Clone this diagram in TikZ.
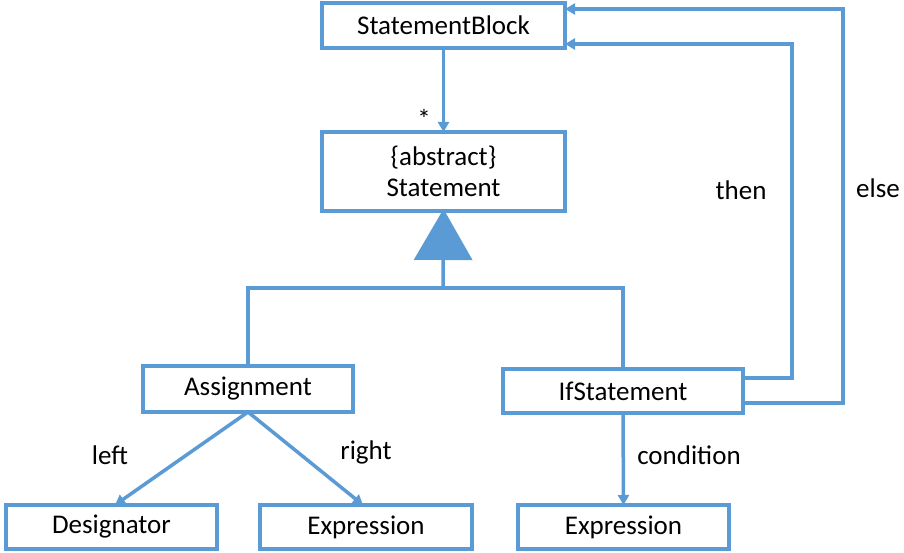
\documentclass[tikz,border=0pt]{standalone}
\usepackage{fontspec}
\setmainfont{Carlito}
\usetikzlibrary{arrows.meta}
\definecolor{umlblue}{HTML}{5B9BD5}
\begin{document}
\begin{tikzpicture}[x=1pt,y=-1pt,
  cls/.style={draw=umlblue, line width=4.5pt, fill=white, inner sep=0pt, outer sep=0pt, minimum height=44pt, align=center, font=\fontsize{27}{33}\selectfont},
  conn/.style={draw=umlblue, line width=3.5pt},
  arr/.style={conn, -{Triangle[length=10pt,width=11pt]}},
  lbl/.style={font=\fontsize{27}{33}\selectfont, inner sep=0pt}]
\useasboundingbox (0,0) rectangle (904,553);
\node[cls, minimum width=243pt, minimum height=45pt] (sb) at (443.5,25.5) {StatementBlock};
\node[cls, minimum width=243pt, minimum height=79pt] (stmt) at (443.5,171.5) {\{abstract\}\\[-2pt]Statement};
\node[cls, minimum width=210pt, minimum height=46pt] (assign) at (248,389) {Assignment};
\node[cls, minimum width=240pt] (ifs) at (623,391) {IfStatement};
\node[cls, minimum width=211pt] (desig) at (111.5,527) {Designator};
\node[cls, minimum width=212pt] (expr1) at (366,527) {Expression};
\node[cls, minimum width=211pt] (expr2) at (623.5,527) {Expression};

\coordinate (j) at (443,288);
\draw[conn] (assign.north) |- (j) -| (ifs.north);
\draw[conn, -{Triangle[length=51pt,width=58pt]}, shorten >=-2pt] (j) -- (stmt.south);

\draw[arr] (sb.south) -- (stmt.north);
\node[lbl] (star) at (424,119) {*};

\coordinate (thenc) at (792,0);
\coordinate (elsec) at (843,0);
\draw[arr] (ifs.east |- 0,378) -| (thenc |- 0,44) -- (sb.east |- 0,44);
\draw[arr] (ifs.east |- 0,403) -| (elsec |- 0,9) -- (sb.east |- 0,9);
\node[lbl] (thenl) at (741,190) {then};
\node[lbl] (elsel) at (878,188) {else};

\draw[arr] (assign.south) -- (desig.north -| 115,0);
\draw[arr] (assign.south) -- (expr1.north -| 363,0);
\node[lbl] (leftl) at (110,455) {left};
\node[lbl] (rightl) at (366,452) {right};

\draw[arr] (ifs.south) -- (expr2.north);
\node[lbl] (condl) at (689,455) {condition};
\end{tikzpicture}
\end{document}
